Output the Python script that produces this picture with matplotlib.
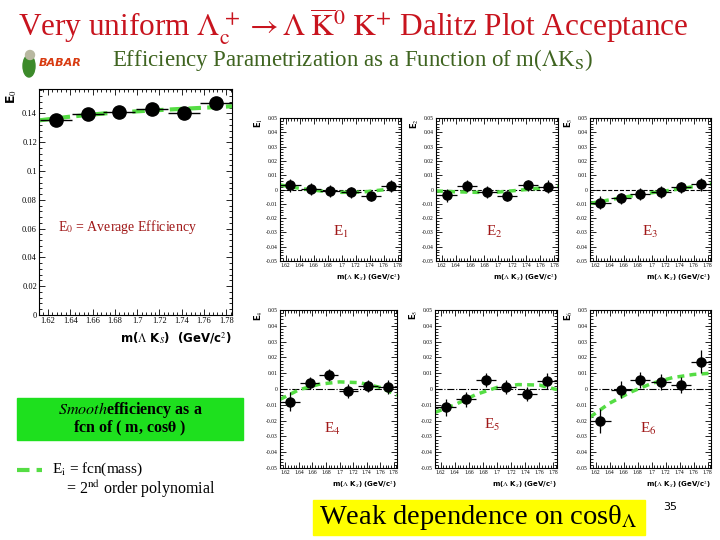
import matplotlib
matplotlib.use('Agg')
import matplotlib.pyplot as plt
import numpy as np
from matplotlib.lines import Line2D
from matplotlib.patches import Rectangle, Ellipse
from matplotlib.ticker import MultipleLocator, FuncFormatter

plt.rcParams['font.family'] = ['Liberation Serif', 'DejaVu Serif']
plt.rcParams['mathtext.fontset'] = 'stix'

# bin centres in m(Lambda K_S) and half bin width
mass = [1.627, 1.656, 1.684, 1.713, 1.742, 1.771]
half_bin = 0.0144

# E0 = average efficiency
e0 = [0.1353, 0.1397, 0.1409, 0.1432, 0.1402, 0.1474]
e0_err = [0.0010, 0.0010, 0.0010, 0.0010, 0.0010, 0.0010]

# higher-order coefficients E1..E6
e_vals = {
    1: [0.0028, 0.0002, -0.0010, -0.0020, -0.0045, 0.0026],
    2: [-0.0040, 0.0026, -0.0016, -0.0045, 0.0028, 0.0019],
    3: [-0.0092, -0.0061, -0.0033, -0.0019, 0.0014, 0.0035],
    4: [-0.0082, 0.0039, 0.0088, -0.0012, 0.0018, 0.0012],
    5: [-0.0117, -0.0066, 0.0059, 0.0014, -0.0031, 0.0051],
    6: [-0.0203, -0.0004, 0.0059, 0.0043, 0.0023, 0.0174],
}
e_errs = {
    1: [0.0045, 0.0040, 0.0040, 0.0040, 0.0035, 0.0040],
    2: [0.0045, 0.0040, 0.0040, 0.0035, 0.0040, 0.0045],
    3: [0.0045, 0.0040, 0.0040, 0.0040, 0.0040, 0.0045],
    4: [0.0060, 0.0040, 0.0040, 0.0045, 0.0040, 0.0045],
    5: [0.0055, 0.0045, 0.0045, 0.0045, 0.0045, 0.0050],
    6: [0.0075, 0.0055, 0.0050, 0.0050, 0.0050, 0.0070],
}

# 2nd order polynomial fits
fit_mass = [1.612, 1.64, 1.67, 1.70, 1.73, 1.76, 1.785]
fit_e0 = [0.1352, 0.1378, 0.1400, 0.1415, 0.1428, 0.1440, 0.1450]
fit_e = {
    1: [0.0032, 0.0008, -0.0010, -0.0020, -0.0018, -0.0002, 0.0016],
    2: [-0.0010, -0.0016, -0.0020, -0.0018, -0.0005, 0.0010, 0.0022],
    3: [-0.0098, -0.0072, -0.0046, -0.0023, -0.0003, 0.0020, 0.0040],
    4: [-0.0066, -0.0005, 0.0030, 0.0045, 0.0040, 0.0010, -0.0039],
    5: [-0.0148, -0.0100, -0.0035, 0.0010, 0.0028, 0.0025, -0.0004],
    6: [-0.0178, -0.0090, -0.0020, 0.0035, 0.0072, 0.0092, 0.0100],
}

W, H = 720, 540
RED = '#c8141e'
DARKRED = '#a01818'
GREEN_FIT = '#55dd44'


def box(l, r, t, b):
    return [l / W, 1 - b / H, (r - l) / W, (b - t) / H]


def fmt(v, pos):
    if abs(v) < 1e-9:
        return '0'
    return f'{v:g}'


def root_style(ax, size):
    ax.tick_params(which='both', direction='in', top=True, right=True,
                   labelsize=size, pad=1.5, width=0.6)
    ax.tick_params(which='major', length=4)
    ax.tick_params(which='minor', length=2)
    ax.xaxis.set_major_locator(MultipleLocator(0.02))
    ax.xaxis.set_minor_locator(MultipleLocator(0.004))
    ax.xaxis.set_major_formatter(FuncFormatter(fmt))
    ax.yaxis.set_major_formatter(FuncFormatter(fmt))
    ax.set_xlim(1.612, 1.785)
    for s in ax.spines.values():
        s.set_linewidth(0.8)


fig = plt.figure(figsize=(7.2, 5.4), dpi=100)

# ---- big E0 panel
ax0 = fig.add_axes(box(39, 232, 89, 315))
root_style(ax0, 6)
ax0.set_ylim(0, 0.157)
ax0.yaxis.set_major_locator(MultipleLocator(0.02))
ax0.yaxis.set_minor_locator(MultipleLocator(0.004))
ax0.plot(fit_mass, fit_e0, color=GREEN_FIT, lw=3, ls=(0, (3, 1.5)), zorder=2)
ax0.errorbar(mass, e0, yerr=e0_err, xerr=half_bin, fmt='o', color='black',
             ms=9.5, elinewidth=1.0, capsize=0, zorder=3)
ax0.set_xlabel(r'm($\Lambda$ K$_S$)  (GeV/c$^2$)', family='DejaVu Sans',
               fontweight='bold', fontsize=8.5, loc='right', labelpad=4)
ax0.set_ylabel(r'E$_0$', family='DejaVu Sans', fontweight='bold',
               fontsize=9, loc='top', labelpad=2)
ax0.text(0.1, 0.37, r'E$_0$ = Average Efficiency', transform=ax0.transAxes,
         color=DARKRED, fontsize=10)

# ---- small panels: box edges, zero-line style, label position
panels = {
    1: (280, 401, 118, 261, '--', (0.50, 0.20)),
    2: (436, 558, 118, 261, '--', (0.48, 0.20)),
    3: (590, 711, 118, 261, '--', (0.50, 0.20)),
    4: (280, 397, 310, 468, '-.', (0.45, 0.25)),
    5: (435, 557, 310, 468, '-.', (0.47, 0.27)),
    6: (590, 711, 310, 468, '-.', (0.48, 0.25)),
}
for i, (l, r, t, b, zls, lab) in panels.items():
    ax = fig.add_axes(box(l, r, t, b))
    root_style(ax, 4)
    ax.set_ylim(-0.05, 0.05)
    ax.yaxis.set_major_locator(MultipleLocator(0.01))
    ax.yaxis.set_minor_locator(MultipleLocator(0.002))
    ax.axhline(0, color='black', lw=0.8, ls=zls, zorder=1)
    ax.plot(fit_mass, fit_e[i], color=GREEN_FIT, lw=2.5, ls=(0, (2, 1.5)), zorder=2)
    ax.errorbar(mass, e_vals[i], yerr=e_errs[i], xerr=half_bin, fmt='o',
                color='black', ms=6.5, elinewidth=0.9, capsize=0, zorder=3)
    ax.set_xlabel(r'm($\Lambda$ K$_S$) (GeV/c$^2$)', family='DejaVu Sans',
                  fontweight='bold', fontsize=5, loc='right', labelpad=3)
    ax.set_ylabel(f'E$_{i}$', family='DejaVu Sans', fontweight='bold',
                  fontsize=6, loc='top', labelpad=1)
    ax.text(lab[0], lab[1], f'E$_{i}$', transform=ax.transAxes,
            color=DARKRED, fontsize=11, ha='center', va='center')

# ---- titles
fig.text(18 / W, 1 - 27 / H,
         r'Very uniform $\Lambda_\mathrm{c}^{\,+}\rightarrow\Lambda\;\overline{\mathrm{K}}^{0}\;\mathrm{K}^{+}$ Dalitz Plot Acceptance',
         color=RED, fontsize=22.5, va='center', ha='left')
fig.text(112 / W, 1 - 60 / H,
         r'Efficiency Parametrization as a Function of m($\Lambda$K$_\mathrm{S}$)',
         color='#3f6420', fontsize=16.5, va='center', ha='left')

# BaBar logo (rough)
fig.add_artist(Ellipse((29 / W, 1 - 66 / H), 12 / W, 22 / H, color='#3c8a2a'))
fig.add_artist(Ellipse((30 / W, 1 - 55 / H), 9 / W, 9 / H, color='#b8b8a0'))
fig.text(39 / W, 1 - 63 / H, 'BABAR', family='DejaVu Sans', fontweight='bold',
         style='italic', color='#d83a10', fontsize=8, va='center')

# green box
fig.add_artist(Rectangle((17 / W, 1 - 440 / H), 226 / W, 42 / H,
                         color='#1ee01e', transform=fig.transFigure))
fig.text(130 / W, 1 - 410 / H, r'$\bf{\it{Smooth}}$efficiency as a',
         fontweight='bold', fontsize=11.5, ha='center', va='center')
fig.text(130 / W, 1 - 428 / H, r'fcn of ( m, cos$\bf\theta$ )',
         fontweight='bold', fontsize=11.5, ha='center', va='center')

# legend key
fig.add_artist(Line2D([17 / W, 42 / W], [1 - 470 / H, 1 - 470 / H],
                      color=GREEN_FIT, lw=3, ls=(0, (3, 1.7)),
                      transform=fig.transFigure))
fig.text(52 / W, 1 - 469 / H, r'E$_\mathrm{i}$ = fcn(mass)', fontsize=11,
         va='center')
fig.text(66 / W, 1 - 489 / H, r'= 2$^\mathrm{nd}$ order polynomial', fontsize=11.5,
         va='center')

# yellow box
fig.add_artist(Rectangle((313 / W, 1 - 535 / H), 332 / W, 35 / H,
                         color='#ffff00', transform=fig.transFigure))
fig.text(478 / W, 1 - 517 / H, r'Weak dependence on cosθ$_\Lambda$',
         fontsize=20.5, ha='center', va='center')

fig.text(670 / W, 1 - 507 / H, '35', family='DejaVu Sans', fontsize=8,
         ha='center', va='center')

fig.savefig('out.png', dpi=100)
